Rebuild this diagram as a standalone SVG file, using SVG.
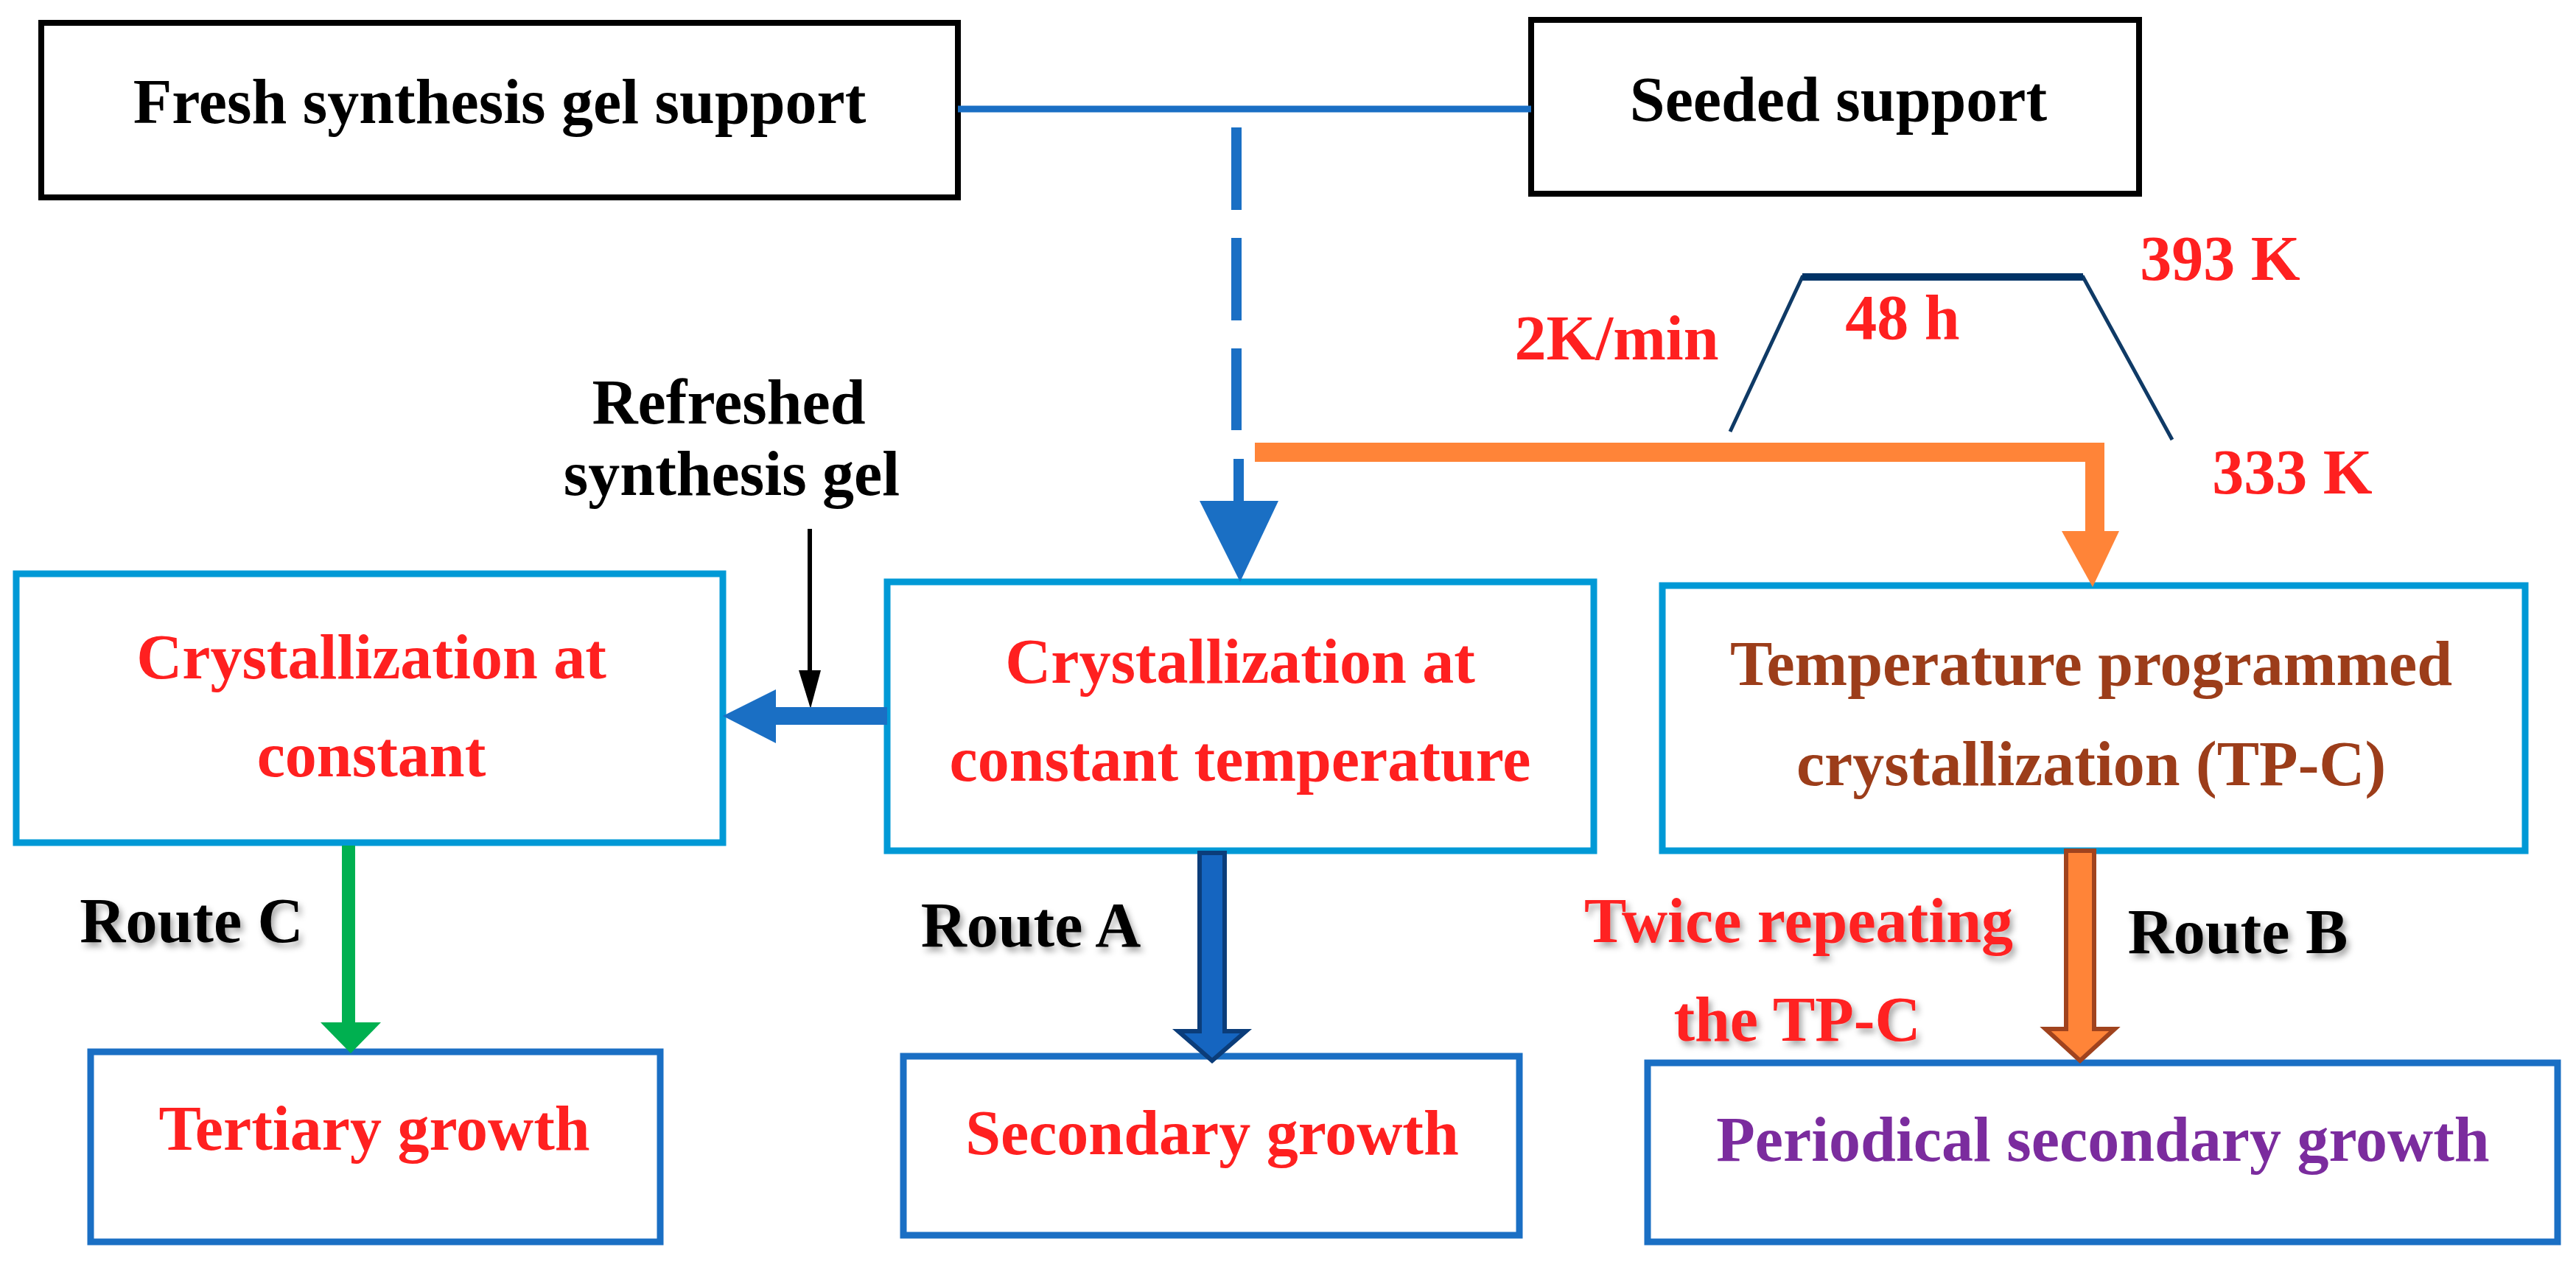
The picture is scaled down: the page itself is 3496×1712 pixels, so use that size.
<svg xmlns="http://www.w3.org/2000/svg" width="3496" height="1712" viewBox="0 0 3496 1712">
<style>
text{font-family:"Liberation Serif","DejaVu Serif",serif;font-weight:bold;font-size:86px;text-anchor:middle}
.red{fill:#FF2020}.blk{fill:#000}.brn{fill:#9C3D1A}.pur{fill:#7B2C9E}
.sh{filter:url(#shadow)}
.kb{fill:#fff;stroke:#000;stroke-width:8}
.lb{fill:#fff;stroke:#0099D6;stroke-width:9}
.db{fill:#fff;stroke:#1A6FC4;stroke-width:9}
</style>
<defs>
<filter id="shadow" x="-10%" y="-10%" width="130%" height="140%"><feDropShadow dx="4" dy="6" stdDeviation="4" flood-color="#000" flood-opacity="0.35"/></filter>
</defs>
<g id="fresh"><rect class="kb" x="56" y="31" width="1244" height="237"/><text class="blk" x="678" y="167">Fresh synthesis gel support</text></g>
<g id="seeded"><rect class="kb" x="2078" y="27" width="825" height="236"/><text class="blk" x="2495" y="164">Seeded support</text></g>
<g id="left"><rect class="lb" x="22" y="779" width="959" height="365"/><text class="red" x="504" y="921">Crystallization at</text><text class="red" x="504" y="1054">constant</text></g>
<g id="middle"><rect class="lb" x="1204" y="790" width="959" height="365"/><text class="red" x="1683" y="927">Crystallization at</text><text class="red" x="1683" y="1060">constant temperature</text></g>
<g id="right"><rect class="lb" x="2256" y="795" width="1171" height="360"/><text class="brn" x="2838" y="930">Temperature programmed</text><text class="brn" x="2838" y="1066">crystallization (TP-C)</text></g>
<g id="tertiary"><rect class="db" x="123" y="1428" width="773" height="258"/><text class="red" x="508" y="1561">Tertiary growth</text></g>
<g id="secondary"><rect class="db" x="1226" y="1434" width="836" height="243"/><text class="red" x="1645" y="1567">Secondary growth</text></g>
<g id="periodical"><rect class="db" x="2236" y="1443" width="1235" height="243"/><text class="pur" x="2854" y="1576">Periodical secondary growth</text></g>
<g id="profile">
<polyline points="2348,586 2446,376 2827,376 2948,597" fill="none" stroke="#0F3A66" stroke-width="5"/>
<line x1="2446" y1="376" x2="2827" y2="376" stroke="#003366" stroke-width="10"/>
<text class="red" x="2194" y="488">2K/min</text>
<text class="red" x="2582" y="460">48 h</text>
<text class="red" x="3013" y="380">393 K</text>
<text class="red" x="3111" y="670">333 K</text>
</g>
<g id="labels">
<text class="blk" x="989" y="575">Refreshed</text>
<text class="blk" x="993" y="672">synthesis gel</text>
<text class="blk sh" x="260" y="1279">Route C</text>
<text class="blk sh" x="1399" y="1285">Route A</text>
<text class="blk sh" x="3037" y="1294">Route B</text>
<text class="red sh" x="2441" y="1279">Twice repeating</text>
<text class="red sh" x="2439" y="1413">the TP-C</text>
</g>
<g id="connectors">
<line x1="1300" y1="148" x2="2078" y2="148" stroke="#1A6FC4" stroke-width="9"/>
<line x1="1678" y1="173" x2="1678" y2="584" stroke="#1A6FC4" stroke-width="14" stroke-dasharray="112,38"/>
<line x1="1681" y1="623" x2="1681" y2="685" stroke="#1A6FC4" stroke-width="14"/>
<polygon points="1628,680 1735,680 1683,790" fill="#1A6FC4"/>
<polyline points="1703,614 2843,614 2843,725" fill="none" stroke="#FF8438" stroke-width="26"/>
<polygon points="2798,721 2876,721 2840,797" fill="#FF8438"/>
<line x1="1099" y1="718" x2="1099" y2="915" stroke="#000" stroke-width="6"/>
<polygon points="1084,910 1114,910 1100,962" fill="#000"/>
<rect x="1050" y="960" width="154" height="24" fill="#1A6FC4"/>
<polygon points="1053,936 1053,1009 981,972" fill="#1A6FC4"/>
<line x1="473" y1="1148" x2="473" y2="1392" stroke="#00B050" stroke-width="18"/>
<polygon points="435,1388 517,1388 476,1430" fill="#00B050"/>
<polygon points="1628,1158 1662,1158 1662,1400 1691,1400 1645,1440 1599,1400 1628,1400" fill="#1565C0" stroke="#0B3D7A" stroke-width="6"/>
<polygon points="2804,1155 2842,1155 2842,1397 2870,1397 2823,1440 2776,1397 2804,1397" fill="#FF8438" stroke="#A0431E" stroke-width="6"/>
</g>
</svg>
